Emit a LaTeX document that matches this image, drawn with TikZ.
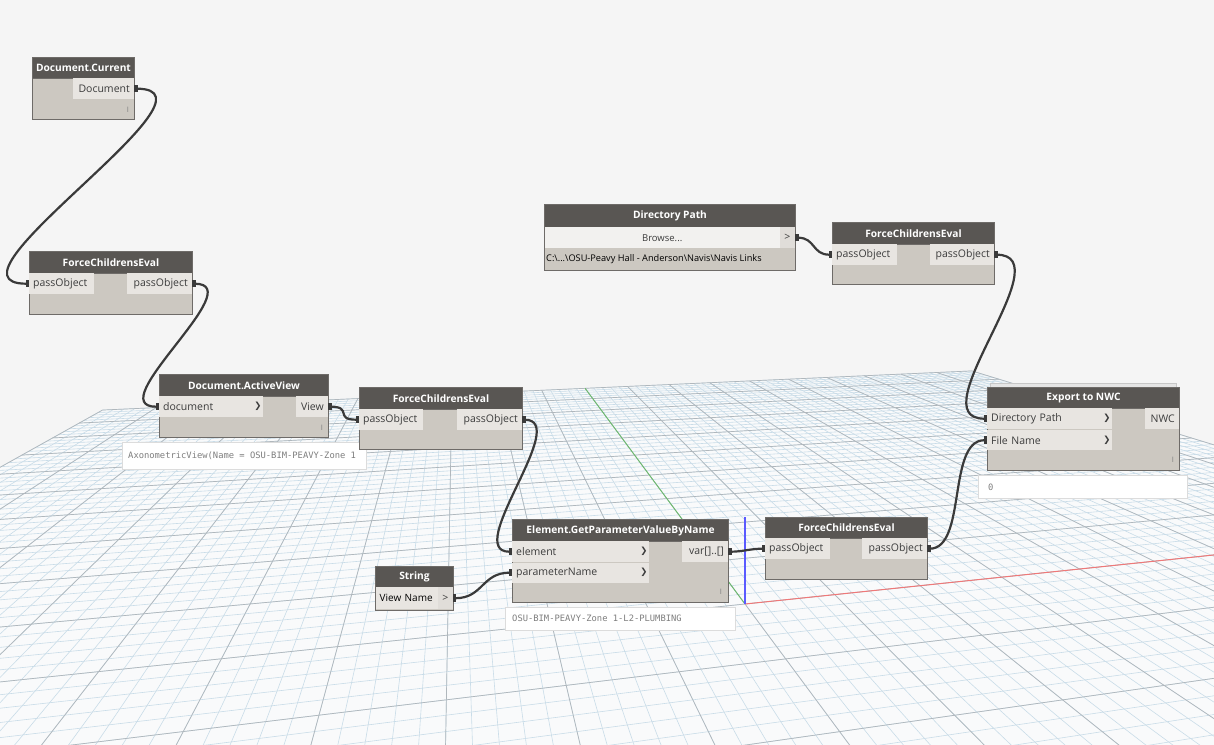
\documentclass[tikz,border=0pt]{standalone}
\usepackage{fontspec}
\setmainfont{Open Sans}
\newfontfamily\previewfont{DejaVu Sans Mono}
\newfontfamily\chevfont{DejaVu Sans}
\usetikzlibrary{arrows.meta}

\definecolor{canvas}{HTML}{F5F5F5}
\definecolor{floorbg}{HTML}{F9FAFB}
\definecolor{gridminor}{HTML}{C9DCE8}
\definecolor{gridmajor}{HTML}{B0B7BC}
\definecolor{headgrey}{HTML}{595653}
\definecolor{bodygrey}{HTML}{CCC8C1}
\definecolor{portgrey}{HTML}{E8E5E1}
\definecolor{edgegrey}{HTML}{6E6B68}
\definecolor{wiregrey}{HTML}{3A3A3A}
\definecolor{labelgrey}{HTML}{3C3C3C}
\definecolor{previewedge}{HTML}{DCDCDC}
\definecolor{previewtext}{HTML}{7E7E7E}
\definecolor{browsebg}{HTML}{F2F1EF}
\definecolor{browsetip}{HTML}{E0DDD9}
\definecolor{axisx}{HTML}{F07878}
\definecolor{axisy}{HTML}{6DBB6D}
\definecolor{axisz}{HTML}{5A5AFF}

\newcommand{\portfont}{\fontsize{10.5}{12}\selectfont}
\newcommand{\headfont}{\fontsize{10.2}{12}\selectfont\bfseries}

% point of the floor grid (u along red axis, v along green axis)
\newcommand{\floorpt}[3]{%
  \pgfmathsetmacro{\fden}{1+0.00491*(#1)+0.02462*(#2)}%
  \pgfmathsetmacro{\fpx}{(745+22.031*(#1)+11.202*(#2))/\fden}%
  \pgfmathsetmacro{\fpy}{(604+1.0458*(#1)+5.244*(#2))/\fden}%
  \coordinate (#3) at (\fpx,\fpy);%
}

\begin{document}
\begin{tikzpicture}[x=1pt, y=-1pt,
    nodebody/.style={draw=edgegrey, line width=1pt, fill=bodygrey, inner sep=0pt, anchor=north west},
    nodehead/.style={draw=edgegrey, line width=1pt, fill=headgrey, text=white, font=\headfont,
      inner sep=0pt, minimum height=22, anchor=north west},
    portin/.style={fill=portgrey, text=labelgrey, font=\portfont, inner sep=0pt, inner xsep=4pt,
      text width=#1, align=left, minimum height=21, anchor=north west},
    portout/.style={fill=portgrey, text=labelgrey, font=\portfont, inner sep=0pt, inner xsep=4pt,
      text width=#1, align=right, minimum height=21, anchor=north east},
    chev/.style={text=labelgrey, font=\chevfont\fontsize{8.5}{10}\selectfont, inner sep=0pt},
    lacing/.style={text=black!50, font=\fontsize{7.5}{8}\selectfont, inner sep=0pt},
    preview/.style={fill=white, draw=previewedge, line width=0.8pt, inner sep=0pt, anchor=north west},
    previewtxt/.style={text=previewtext, font=\previewfont\fontsize{8.8}{10}\selectfont, inner sep=0pt, anchor=west},
    wire/.style={draw=wiregrey, line width=2.2pt,
      arrows={Rectangle[length=3.5pt,width=7.5pt]-Rectangle[length=3.5pt,width=7.5pt]}}]

    \useasboundingbox (0,0) rectangle (1214,744);
    \fill[canvas] (0,0) rectangle (1214,744);

    % Floor grid
    \begin{scope}
        \clip (0,0) rectangle (1214,744);
        \floorpt{-50}{-16}{fa} \floorpt{50}{-16}{fb} \floorpt{50}{50}{fc} \floorpt{-50}{50}{fd}
        \fill[floorbg] (fa) -- (fb) -- (fc) -- (fd) -- cycle;
        \foreach \k in {-50,...,50} {
            \floorpt{\k}{-16}{p} \floorpt{\k}{50}{q}
            \draw[gridminor, line width=0.6pt] (p) -- (q);
        }
        \foreach \k in {-16,...,50} {
            \floorpt{-50}{\k}{p} \floorpt{50}{\k}{q}
            \draw[gridminor, line width=0.6pt] (p) -- (q);
        }
        \foreach \k in {-50,-45,...,50} {
            \floorpt{\k}{-16}{p} \floorpt{\k}{50}{q}
            \draw[gridmajor, line width=0.7pt] (p) -- (q);
        }
        \foreach \k in {-15,-10,...,50} {
            \floorpt{-50}{\k}{p} \floorpt{50}{\k}{q}
            \draw[gridmajor, line width=0.7pt] (p) -- (q);
        }
        % axes
        \floorpt{0}{0}{orig} \floorpt{50}{0}{xend} \floorpt{0}{50}{yend}
        \coordinate (zend) at (745,517);
        \draw[draw=axisx, line width=1pt] (orig) -- (xend);
        \draw[draw=axisy, line width=0.9pt] (orig) -- (yend);
        \draw[draw=axisz, line width=1.2pt] (orig) -- (zend);
    \end{scope}

    % Preview bubbles
    \node[preview, minimum width=244, minimum height=27] (avPrev) at (122,442) {};
    \node[previewtxt] (avPrevTxt) at (128,455.5) {AxonometricView(Name = OSU-BIM-PEAVY-Zone 1};
    \node[preview, minimum width=230, minimum height=23] (elPrev) at (505,607) {};
    \node[previewtxt] (elPrevTxt) at (512,618.5) {OSU-BIM-PEAVY-Zone 1-L2-PLUMBING};
    \node[preview, minimum width=209, minimum height=23] (exPrev) at (978,475) {};
    \node[previewtxt] (exPrevTxt) at (988,487) {0};

    % Document.Current
    \node[nodebody, minimum width=102, minimum height=62] (dcBody) at (32,57) {};
    \node[nodehead, minimum width=102, minimum height=21] (dcHead) at (32,57) {Document.Current};
    \node[portout=53] (dcDoc) at (134,78) {Document};
    \node[lacing] (dcLace) at (128,110) {I};

    % ForceChildrensEval (left)
    \node[nodebody, minimum width=163, minimum height=63] (faBody) at (29,251) {};
    \node[nodehead, minimum width=163] (faHead) at (29,251) {ForceChildrensEval};
    \node[portin=57] (faIn) at (29,273) {passObject};
    \node[portout=57] (faOut) at (192,273) {passObject};

    % Document.ActiveView
    \node[nodebody, minimum width=169, minimum height=63] (avBody) at (159,374) {};
    \node[nodehead, minimum width=169] (avHead) at (159,374) {Document.ActiveView};
    \node[portin=96] (avIn) at (159,396) {document};
    \node[chev] (avChev) at (258,406.5) {❯};
    \node[portout=24] (avOut) at (328,396) {View};
    \node[lacing] (avLace) at (322,428) {I};

    % ForceChildrensEval (middle)
    \node[nodebody, minimum width=163, minimum height=62] (fbBody) at (359,387) {};
    \node[nodehead, minimum width=163] (fbHead) at (359,387) {ForceChildrensEval};
    \node[portin=56] (fbIn) at (359,409) {passObject};
    \node[portout=57] (fbOut) at (522,409) {passObject};

    % Directory Path
    \node[nodebody, minimum width=251, minimum height=66] (dpBody) at (544,204) {};
    \node[nodehead, minimum width=251, minimum height=23] (dpHead) at (544,204) {Directory Path};
    \node[fill=browsebg, text=labelgrey, font=\fontsize{9.5}{11}\selectfont, inner sep=0pt,
        minimum width=235, minimum height=21, anchor=north west] (dpBrowse) at (544.5,227) {Browse...};
    \node[fill=browsetip, text=labelgrey, font=\portfont, inner sep=0pt,
        minimum width=15.5, minimum height=21, anchor=north west] (dpOut) at (779.5,227) {>};
    \node[text=black, font=\fontsize{9.2}{11}\selectfont, inner sep=0pt, anchor=west] (dpPath) at (546,259)
        {C:\textbackslash...\textbackslash OSU-Peavy Hall - Anderson\textbackslash Navis\textbackslash Navis Links};

    % ForceChildrensEval (top right)
    \node[nodebody, minimum width=162, minimum height=62] (fcBody) at (832,222) {};
    \node[nodehead, minimum width=162] (fcHead) at (832,222) {ForceChildrensEval};
    \node[portin=57] (fcIn) at (832,244) {passObject};
    \node[portout=56] (fcOut) at (994,244) {passObject};

    % Export to NWC
    \draw[fill=black!10, draw=black!22, line width=0.6pt] (990,383) rectangle (1176,388);
    \node[nodebody, minimum width=192, minimum height=83] (exBody) at (987,387) {};
    \node[nodehead, minimum width=192, minimum height=21] (exHead) at (987,387) {Export to NWC};
    \node[portin=117] (exDir) at (987,408) {Directory Path};
    \node[portin=117, minimum height=20] (exFile) at (987,430) {File Name};
    \node[chev] (exChevA) at (1107,418.5) {❯};
    \node[chev] (exChevB) at (1107,440) {❯};
    \node[portout=26] (exOut) at (1179,408) {NWC};
    \node[lacing] (exLace) at (1173,460) {I};

    % String
    \node[nodebody, minimum width=78, minimum height=44] (stBody) at (375,566) {};
    \node[nodehead, minimum width=78, minimum height=21] (stHead) at (375,566) {String};
    \node[fill=portgrey, text=black, font=\fontsize{10}{12}\selectfont, inner sep=0pt, inner xsep=4pt,
        text width=55, align=left, minimum height=22, anchor=north west] (stVal) at (375.5,587) {View Name};
    \node[fill=browsetip, text=labelgrey, font=\portfont, inner sep=0pt,
        minimum width=14.5, minimum height=22, anchor=north west] (stOut) at (438,587) {>};

    % Element.GetParameterValueByName
    \node[nodebody, minimum width=216, minimum height=83] (elBody) at (512,519) {};
    \node[nodehead, minimum width=216] (elHead) at (512,519) {Element.GetParameterValueByName};
    \node[portin=129] (elElem) at (512,541) {element};
    \node[portin=129, minimum height=20] (elName) at (512,562.5) {parameterName};
    \node[chev] (elChevA) at (644,551.5) {❯};
    \node[chev] (elChevB) at (644,572.5) {❯};
    \node[portout=38] (elOut) at (728,541) {var[]..[]};
    \node[lacing] (elLace) at (721,592) {I};

    % ForceChildrensEval (bottom right)
    \node[nodebody, minimum width=162, minimum height=62] (fdBody) at (765,517) {};
    \node[nodehead, minimum width=162, minimum height=21] (fdHead) at (765,517) {ForceChildrensEval};
    \node[portin=57] (fdIn) at (765,538) {passObject};
    \node[portout=57] (fdOut) at (927,538) {passObject};

    % Wires
    \draw[wire] (dcDoc.east) .. controls +(100,0) and +(-100,0) .. (faIn.west);
    \draw[wire] (faOut.east) .. controls +(60,0) and +(-60,0) .. (avIn.west);
    \draw[wire] (avOut.east) .. controls +(25,0) and +(-25,0) .. (fbIn.west);
    \draw[wire] (fbOut.east) .. controls +(50,0) and +(-50,0) .. (elElem.west);
    \draw[wire] (stOut.east) .. controls +(30,0) and +(-30,0) .. (elName.west);
    \draw[wire] (elOut.east) .. controls +(15,0) and +(-15,0) .. (fdIn.west);
    \draw[wire] (dpOut.east) .. controls +(20,0) and +(-20,0) .. (fcIn.west);
    \draw[wire] (fcOut.east) .. controls +(70,0) and +(-70,0) .. (exDir.west);
    \draw[wire] (fdOut.east) .. controls +(40,0) and +(-40,0) .. (exFile.west);
\end{tikzpicture}
\end{document}
